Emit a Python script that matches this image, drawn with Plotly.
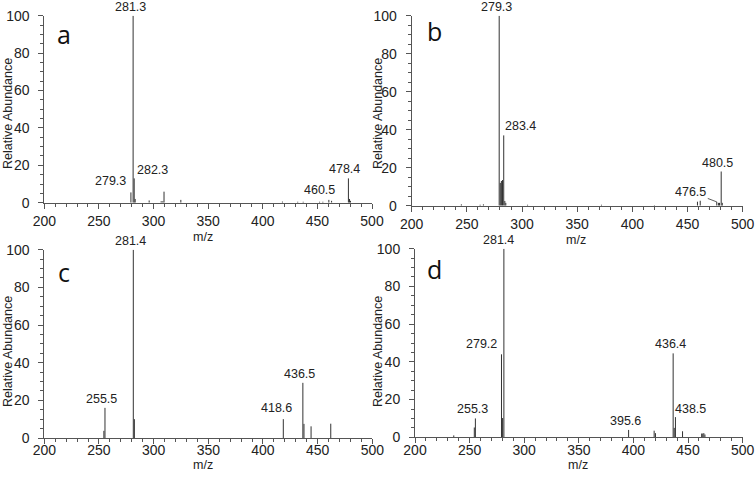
import plotly.graph_objects as go

# ---------------- data ----------------
# Panel a
mz_a = [279.3, 281.3, 282.3, 283.2, 296.0, 307.0, 308.5, 309.6, 325.0, 418.0, 432.0, 437.0, 452.0, 455.0, 460.5, 463.0, 478.4, 479.4, 480.3]
ab_a = [5.5, 100, 13, 2, 1.2, 0.8, 0.8, 5.9, 1.5, 0.6, 0.5, 0.5, 0.5, 0.5, 1.5, 1.0, 13, 2, 1]
lab_a = [281.3, 279.3, 282.3, 478.4, 460.5]

# Panel b
mz_b = [245.0, 262.0, 265.0, 279.3, 280.3, 281.3, 282.3, 283.4, 284.4, 285.3, 305.0, 372.0, 420.0, 459.0, 461.5, 476.5, 478.0, 479.0, 480.5, 481.5]
ab_b = [0.7, 0.5, 0.7, 100, 12, 13, 13.5, 37, 2.5, 1.5, 0.5, 0.5, 0.3, 2.1, 2.6, 2.0, 1.5, 1.5, 18, 1.5]
lab_b = [279.3, 283.4, 480.5, 476.5]

# Panel c
mz_c = [254.5, 255.5, 281.4, 282.4, 418.6, 436.5, 437.5, 444.0, 462.0]
ab_c = [3.8, 16, 100, 10, 10, 29.3, 7.5, 6.2, 7.6]
lab_c = [281.4, 255.5, 418.6, 436.5]

# Panel d
mz_d = [235.5, 254.3, 255.3, 279.2, 280.2, 281.4, 395.6, 419.0, 420.2, 436.4, 437.4, 438.5, 445.0, 462.5, 463.5, 464.5, 465.5]
ab_d = [1.0, 5.2, 10, 44, 10.2, 100, 3.9, 3.5, 2.2, 44.5, 5, 10.7, 3.2, 2, 2, 2.2, 1.5]
lab_d = [281.4, 279.2, 255.3, 395.6, 436.4, 438.5]

letters = ["a", "b", "c", "d"]
x_title = "m/z"
y_title = "Relative Abundance"

# ---------------- layout / style ----------------
W, H = 755, 478
FONT = "Liberation Sans, Arial, sans-serif"
LINE = "#333333"
AX = "#555555"
TXT = "#222222"


def fx(px):
    return px / W


def fy(py):
    return 1 - py / H


# (x0, x1, ybottom, ytop) in pixels for each panel plot area
boxes = [
    (44.3, 372.0, 202.7, 15.7),
    (411.7, 742.7, 205.7, 15.7),
    (44.3, 372.3, 438.0, 249.7),
    (415.0, 742.6, 437.3, 248.7),
]
xlabel_standoff = [0, 0, -6, -5]
# pixel positions of axis titles and panel letters
ytitle_pos = [(8, 114), (378, 114), (8, 352), (378, 352)]
xtitle_pos = [(203, 237), (576, 240), (203, 465), (578, 465)]
letter_pos = [(55, 34), (425, 31), (56, 272), (425, 269)]

# label placement styles: (xanchor, xshift, yshift) keyed by label
label_style = {
    0: {281.3: ("center", -3, 0), 279.3: ("right", -3, 2), 282.3: ("left", 1, -1),
        478.4: ("center", -4, 0), 460.5: ("center", -9, 1)},
    1: {279.3: ("center", -3, 0), 283.4: ("left", -1, 0), 480.5: ("center", -4, 0)},
    2: {281.4: ("center", -3, 0), 255.5: ("center", -3, 0), 418.6: ("center", -7, 2),
        436.5: ("center", -3, 0)},
    3: {281.4: ("center", -5, 0), 279.2: ("right", -2, 1), 255.3: ("center", -3, 0),
        395.6: ("center", -3, 0), 436.4: ("center", -3, 0), 438.5: ("left", -2, -1)},
}

panels = [(mz_a, ab_a, lab_a), (mz_b, ab_b, lab_b), (mz_c, ab_c, lab_c), (mz_d, ab_d, lab_d)]

fig = go.Figure()
annotations = []

for i, ((mz, ab, labs), box) in enumerate(zip(panels, boxes)):
    n = "" if i == 0 else str(i + 1)
    xa, ya = "x" + n, "y" + n
    xs, ys = [], []
    for m, h in zip(mz, ab):
        xs += [m, m, None]
        ys += [0, h, None]
    fig.add_trace(go.Scatter(x=xs, y=ys, mode="lines", xaxis=xa, yaxis=ya,
                             line=dict(color=LINE, width=1), hoverinfo="skip",
                             showlegend=False))
    x0, x1, yb, yt = box
    common = dict(showgrid=False, zeroline=False, showline=True, linecolor=AX,
                  linewidth=1, ticks="outside", tickcolor=AX, ticklen=5,
                  automargin=False,
                  tickfont=dict(family=FONT, size=14, color=TXT))
    fig.layout["xaxis" + n] = dict(
        common, domain=[fx(x0), fx(x1)], range=[200, 500], dtick=50, tick0=200,
        anchor=ya, ticklabelstandoff=xlabel_standoff[i],
        minor=dict(dtick=10, ticks="outside", ticklen=3, tickcolor=AX),
    )
    fig.layout["yaxis" + n] = dict(
        common, domain=[fy(yb), fy(yt)], range=[0, 100], dtick=20, tick0=0,
        anchor=xa, ticklabelstandoff=6,
        minor=dict(dtick=5, ticks="outside", ticklen=3, tickcolor=AX),
    )
    # axis titles
    px, py = ytitle_pos[i]
    annotations.append(dict(x=fx(px), y=fy(py), xref="paper", yref="paper",
                            text=y_title, textangle=-90, showarrow=False,
                            xanchor="center", yanchor="middle",
                            font=dict(family=FONT, size=12.5, color=TXT)))
    px, py = xtitle_pos[i]
    annotations.append(dict(x=fx(px), y=fy(py), xref="paper", yref="paper",
                            text=x_title, showarrow=False,
                            xanchor="center", yanchor="middle",
                            font=dict(family=FONT, size=12.5, color=TXT)))
    # peak labels
    for lv in labs:
        h = ab[mz.index(lv)]
        if i == 1 and lv == 476.5:
            annotations.append(dict(
                x=lv, y=h, xref=xa, yref=ya, text=f"{lv}", showarrow=True,
                arrowhead=0, arrowwidth=0.8, arrowcolor=LINE, ax=-26, ay=-10,
                standoff=0, font=dict(family=FONT, size=12.5, color=TXT)))
            continue
        xanc, xsh, ysh = label_style[i][lv]
        annotations.append(dict(
            x=lv, y=h, xref=xa, yref=ya, text=f"{lv}", showarrow=False,
            xanchor=xanc, yanchor="bottom", xshift=xsh, yshift=ysh,
            font=dict(family=FONT, size=12.5, color=TXT)))
    # panel letter
    px, py = letter_pos[i]
    annotations.append(dict(
        x=fx(px), y=fy(py), xref="paper", yref="paper", text=letters[i],
        showarrow=False, xanchor="left", yanchor="middle",
        font=dict(family="Open Sans, Noto Sans, sans-serif", size=25, color="#111111")))

fig.update_layout(
    width=W, height=H, margin=dict(l=0, r=0, t=0, b=0, autoexpand=False),
    paper_bgcolor="white", plot_bgcolor="white",
    annotations=annotations,
)

# remove the default page margin so the figure fills the browser window exactly
fig.write_html("out.html",
               config={"displayModeBar": False},
               post_script="document.body.style.margin='0px';document.body.style.overflow='hidden';")
